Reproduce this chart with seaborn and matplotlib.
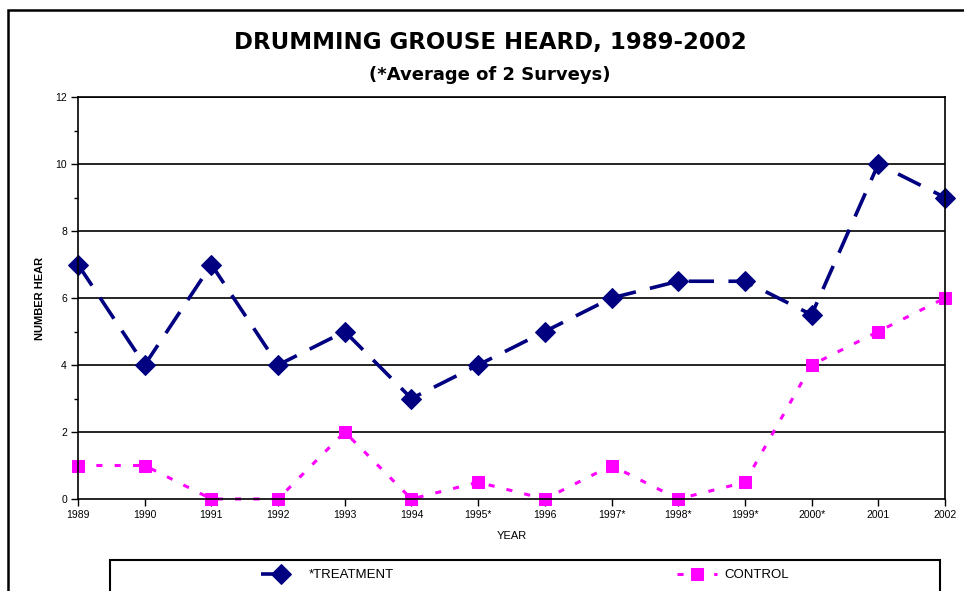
import matplotlib
matplotlib.use("Agg")
import matplotlib.pyplot as plt
from matplotlib.patches import Rectangle
from matplotlib.ticker import MultipleLocator
import seaborn as sns
import pandas as pd

years = ["1989", "1990", "1991", "1992", "1993", "1994", "1995*", "1996",
         "1997*", "1998*", "1999*", "2000*", "2001", "2002"]
treatment = [7, 4, 7, 4, 5, 3, 4, 5, 6, 6.5, 6.5, 5.5, 10, 9]
control = [1, 1, 0, 0, 2, 0, 0.5, 0, 1, 0, 0.5, 4, 5, 6]

sns.set_theme(style="white")
plt.rcParams["font.family"] = ["Liberation Sans", "DejaVu Sans"]
for k in ["text.color", "axes.labelcolor", "xtick.color", "ytick.color"]:
    plt.rcParams[k] = "black"

df = pd.DataFrame({"pos": list(range(len(years))), "year": years,
                   "treatment": treatment, "control": control})

fig = plt.figure(figsize=(9.64, 5.91), dpi=100)
ax = fig.add_axes([78/964, 1-499/591, (945-78)/964, (499-97)/591])

sns.lineplot(data=df, x="pos", y="treatment", ax=ax, color="#000080",
             linewidth=2.6, marker="D", markersize=10, markeredgecolor="#000080",
             label="*TREATMENT")
sns.lineplot(data=df, x="pos", y="control", ax=ax, color="#FF00FF",
             linewidth=2.2, marker="s", markersize=8, markeredgecolor="#FF00FF",
             label="CONTROL")
ax.lines[0].set_dashes([7, 4])
ax.lines[1].set_dashes([2, 4])
for ln in ax.lines:
    ln.set_clip_on(False)

ax.set_xlim(0, len(years) - 1)
ax.set_ylim(0, 12)
ax.set_xticks(range(len(years)))
ax.set_xticklabels(years, fontsize=7.5)
ax.yaxis.set_major_locator(MultipleLocator(2))
ax.yaxis.set_minor_locator(MultipleLocator(1))
ax.tick_params(axis="both", which="major", direction="out", length=5, width=1,
               color="black", labelsize=7.5, pad=3, bottom=True, left=True)
ax.tick_params(axis="y", which="minor", direction="out", length=3, width=1,
               color="black", left=True)
for v in range(2, 13, 2):
    ax.axhline(v, color="black", linewidth=1.2, zorder=0)
for s in ["left", "right", "bottom", "top"]:
    ax.spines[s].set_visible(True)
    ax.spines[s].set_color("black")
    ax.spines[s].set_linewidth(1.2)

ax.set_xlabel("YEAR", fontsize=8, labelpad=8)
ax.set_ylabel("NUMBER HEAR", fontsize=8, fontweight="bold", labelpad=7)
ax.get_legend().remove()

fig.text(490/964, 1-43/591, "DRUMMING GROUSE HEARD, 1989-2002", ha="center",
         va="center", fontsize=16.5, fontweight="bold", family="DejaVu Sans")
fig.text(490/964, 1-75/591, "(*Average of 2 Surveys)", ha="center",
         va="center", fontsize=13, fontweight="bold", family="DejaVu Sans")

# outer frame
fig.patches.append(Rectangle((8/964, -0.1), 1.1, 1-10/591+0.1,
                             transform=fig.transFigure, fill=False,
                             edgecolor="black", linewidth=1.8))
# legend box
fig.patches.append(Rectangle((110/964, -0.05), (940-110)/964, 1-560/591+0.05,
                             transform=fig.transFigure, fill=False,
                             edgecolor="black", linewidth=1.5))
handles, labels = ax.get_legend_handles_labels()
fig.legend(handles, labels, loc="center", bbox_to_anchor=(525/964, 1-575/591),
           ncol=2, frameon=False, fontsize=9.5, columnspacing=21.5,
           handlelength=3, handletextpad=0.6)

fig.savefig("out.png", dpi=100)
